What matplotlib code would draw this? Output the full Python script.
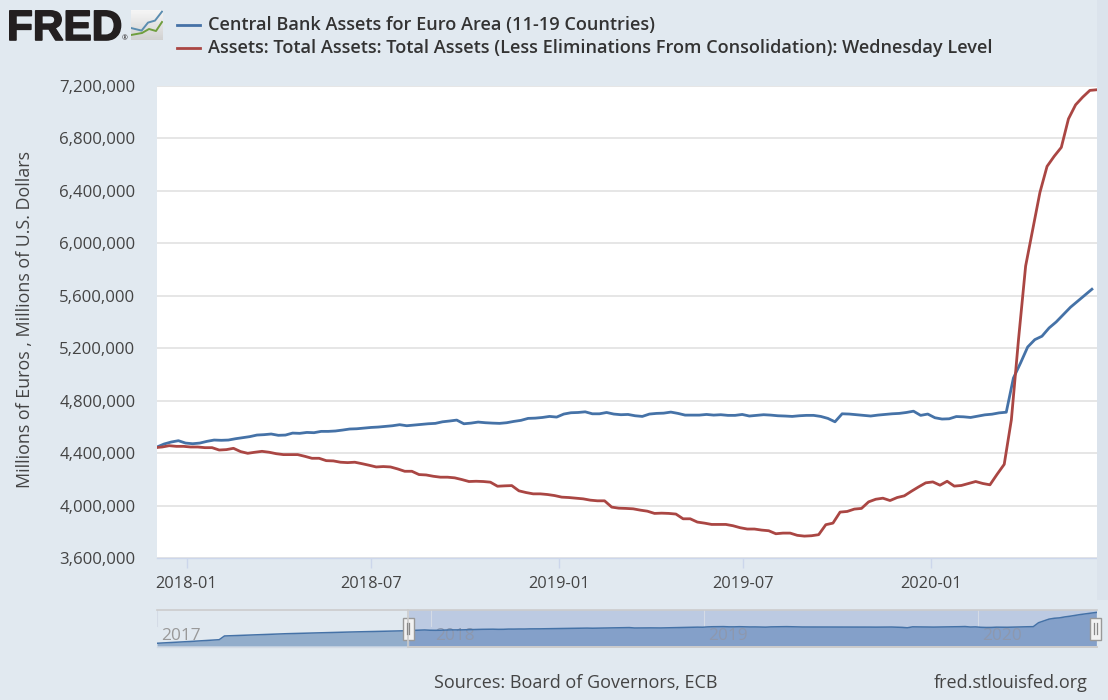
import numpy as np
import pandas as pd
import matplotlib
matplotlib.use('Agg')
import matplotlib.pyplot as plt
import matplotlib.dates as mdates
import matplotlib.patheffects as pe
from matplotlib.lines import Line2D
from matplotlib.patches import Rectangle
from matplotlib.ticker import FuncFormatter

# weekly values, millions
euro_assets = [
    4.448, 4.471, 4.486, 4.496, 4.478, 4.473, 4.478, 4.491, 4.501, 4.499, 4.501, 4.511, 4.519, 4.527,
    4.539, 4.542, 4.547, 4.537, 4.539, 4.554, 4.552, 4.559, 4.557, 4.567, 4.567, 4.570, 4.577, 4.585,
    4.587, 4.592, 4.597, 4.600, 4.605, 4.610, 4.618, 4.610, 4.615, 4.620, 4.625, 4.628, 4.640, 4.646,
    4.653, 4.625, 4.630, 4.638, 4.633, 4.630, 4.628, 4.633, 4.643, 4.651, 4.666, 4.668, 4.673, 4.681,
    4.676, 4.699, 4.709, 4.711, 4.716, 4.701, 4.701, 4.711, 4.699, 4.694, 4.696, 4.686, 4.681, 4.699,
    4.704, 4.706, 4.714, 4.704, 4.691, 4.691, 4.691, 4.696, 4.691, 4.694, 4.689, 4.689, 4.696, 4.684,
    4.689, 4.694, 4.691, 4.686, 4.684, 4.681, 4.686, 4.689, 4.689, 4.681, 4.666, 4.640, 4.701, 4.699,
    4.694, 4.689, 4.684, 4.691, 4.696, 4.701, 4.704, 4.711, 4.721, 4.689, 4.699, 4.671, 4.661, 4.663,
    4.680, 4.678, 4.673, 4.683, 4.693, 4.698, 4.708, 4.713, 4.973, 5.088, 5.210, 5.266, 5.292, 5.355,
    5.401, 5.457, 5.513, 5.559, 5.605, 5.650,
]
fed_assets = [
    4.443, 4.448, 4.458, 4.453, 4.453, 4.448, 4.448, 4.443, 4.443, 4.425, 4.428, 4.438, 4.413, 4.400,
    4.408, 4.415, 4.408, 4.397, 4.390, 4.390, 4.390, 4.377, 4.362, 4.362, 4.344, 4.342, 4.332, 4.329,
    4.332, 4.321, 4.309, 4.296, 4.299, 4.296, 4.281, 4.263, 4.263, 4.238, 4.235, 4.225, 4.218, 4.218,
    4.213, 4.200, 4.185, 4.187, 4.185, 4.180, 4.149, 4.152, 4.154, 4.114, 4.101, 4.091, 4.091, 4.086,
    4.078, 4.066, 4.063, 4.058, 4.053, 4.043, 4.038, 4.038, 3.990, 3.982, 3.980, 3.977, 3.967, 3.959,
    3.942, 3.944, 3.942, 3.937, 3.901, 3.901, 3.876, 3.868, 3.858, 3.858, 3.858, 3.848, 3.833, 3.823,
    3.823, 3.815, 3.810, 3.787, 3.792, 3.792, 3.775, 3.769, 3.772, 3.780, 3.856, 3.868, 3.952, 3.957,
    3.975, 3.980, 4.030, 4.050, 4.058, 4.040, 4.063, 4.076, 4.111, 4.144, 4.175, 4.182, 4.157, 4.187,
    4.150, 4.155, 4.170, 4.185, 4.170, 4.160, 4.240, 4.316, 4.655, 5.266, 5.827, 6.107, 6.387, 6.586,
    6.663, 6.731, 6.948, 7.055, 7.114, 7.165, 7.170,
]
euro_dates = pd.date_range("2017-12-03", periods=len(euro_assets), freq="7D")
fed_dates = pd.date_range("2017-12-01", periods=len(fed_assets), freq="7D")

# navigator only shows the euro series, with 2017 in front
early_dates = pd.to_datetime(["2017-01-01", "2017-02-15", "2017-03-25", "2017-04-01", "2017-06-23", "2017-09-15"])
early_assets = [3.62, 3.74, 3.855, 4.10, 4.25, 4.36]

y_ticks = [3.6, 4.0, 4.4, 4.8, 5.2, 5.6, 6.0, 6.4, 6.8, 7.2]
x_ticks = ["2018-01-01", "2018-07-01", "2019-01-01", "2019-07-01", "2020-01-01"]
nav_years = ["2017", "2018", "2019", "2020"]

BG = "#e1e9f0"
BLUE = "#4572a7"
RED = "#aa4643"
TEXT = "#444444"
W, H = 1108, 700

plt.rcParams['font.family'] = ['Open Sans', 'DejaVu Sans']


def box(x0, y0, x1, y1):
    # pixel box (y from the top) to figure fractions
    return [x0 / W, 1 - y1 / H, (x1 - x0) / W, (y1 - y0) / H]


fig = plt.figure(figsize=(W / 100, H / 100), dpi=100, facecolor=BG)

# slightly darker strip right of the plot
fig.add_artist(Rectangle((1097 / W, 1 - 600 / H), 11 / W, 600 / H, transform=fig.transFigure,
                         facecolor="#dbe3ec", edgecolor="none"))

# main chart
ax = fig.add_axes(box(157, 85.8, 1097, 558.3))
ax.plot(euro_dates, euro_assets, color=BLUE, lw=2.0, solid_joinstyle='round')
ax.plot(fed_dates, fed_assets, color=RED, lw=2.0, solid_joinstyle='round')
ax.set_xlim(pd.Timestamp("2017-12-03"), pd.Timestamp("2020-06-12"))
ax.set_ylim(3.6, 7.2)
ax.set_yticks(y_ticks)
ax.yaxis.set_major_formatter(FuncFormatter(lambda v, p: f"{v * 1e6:,.0f}"))
ax.set_xticks(pd.to_datetime(x_ticks))
ax.xaxis.set_major_formatter(mdates.DateFormatter("%Y-%m"))
ax.grid(axis='y', color="#e6e6e6", lw=1.4)
ax.set_axisbelow(True)
for s in ['top', 'right', 'left']:
    ax.spines[s].set_visible(False)
ax.spines['bottom'].set_color("#ccd6eb")
ax.spines['bottom'].set_linewidth(1.0)
ax.tick_params(axis='y', length=0, labelsize=12.1, labelcolor=TEXT, pad=15.5)
ax.tick_params(axis='x', length=7.5, width=1.0, color="#ccd6eb", labelsize=11.8, labelcolor=TEXT, pad=5)

fig.text(25 / W, 1 - 320 / H, "Millions of Euros , Millions of U.S. Dollars", rotation=90,
         ha='center', va='center', fontsize=12.9, color=TEXT)

# legend
legend_rows = [
    (25, BLUE, "Central Bank Assets for Euro Area (11-19 Countries)"),
    (48, RED, "Assets: Total Assets: Total Assets (Less Eliminations From Consolidation): Wednesday Level"),
]
for ly, col, label in legend_rows:
    fig.add_artist(Line2D([177 / W, 200 / W], [1 - ly / H, 1 - ly / H], color=col, lw=2.0))
    fig.text(208 / W, 1 - ly / H, label, ha='left', va='center', fontsize=13.05, color="#333333", fontweight=600)

# logo
fig.text(7 / W, 1 - 40 / H, "FRED", ha='left', va='baseline', fontsize=30.5, fontweight='bold',
         color="#231f20", family='Liberation Sans',
         path_effects=[pe.withStroke(linewidth=1.2, foreground="#231f20")])
fig.text(122 / W, 1 - 40.5 / H, "®", ha='left', va='baseline', fontsize=5, color="#231f20")
icon = fig.add_axes(box(131, 10, 163, 40))
icon.imshow(np.linspace(0.96, 0.82, 30).reshape(-1, 1), cmap='gray', vmin=0, vmax=1, aspect='auto',
            extent=[0, 32, 30, 0])
icon.plot([0, 10.6, 17, 24, 31], [18, 20.6, 12.6, 10.6, 1.6], color="#5b8db0", lw=1.4)
icon.plot([0, 11, 18, 25, 31], [25, 23, 19, 21, 12], color="#6f9e3e", lw=1.4)
icon.set_xlim(0, 32)
icon.set_ylim(30, 0)
icon.axis('off')

# navigator
nav = fig.add_axes(box(157, 610, 1097, 646))
nav.set_facecolor("none")
nav_dates = early_dates.append(euro_dates)
nav_values = np.array(early_assets + euro_assets)
nav_start = pd.Timestamp("2017-01-01")
nav_end = pd.Timestamp("2020-06-08")
sel_start = pd.Timestamp("2017-12-03")
nav.axvspan(sel_start, nav_end, color="#bccae2", lw=0, zorder=0)
left = nav_dates <= sel_start
right = nav_dates >= sel_start
nav.fill_between(nav_dates[left], nav_values[left], 3.44, color="#92adcb", lw=0, zorder=1)
nav.fill_between(nav_dates[right], nav_values[right], 3.44, color="#84a0c9", lw=0, zorder=1)
nav.plot(nav_dates, nav_values, color=BLUE, lw=1.1, zorder=3)
nav.set_xlim(nav_start, nav_end)
nav.set_ylim(3.44, 5.81)
nav.set_xticks([])
nav.set_yticks([])
for s in nav.spines.values():
    s.set_visible(False)
for yr in nav_years:
    d = pd.Timestamp(yr + "-01-01")
    nav.axvline(d, ymin=0.55, color="#d4dbe6", lw=0.8, zorder=2)
    nav.annotate(yr, (d, 3.44), xytext=(3, 1.5), textcoords='offset points', fontsize=12.4,
                 color="#999999" if yr == "2017" else "#8d98ae", ha='left', va='bottom', zorder=2)
fig.add_artist(Line2D([157 / W, 1097 / W], [1 - 609.5 / H] * 2, color="#cccccc", lw=1.2))
fig.add_artist(Line2D([157 / W, 408 / W], [1 - 646.5 / H] * 2, color="#d3dae4", lw=1.0))
fig.add_artist(Line2D([408 / W, 1097 / W], [1 - 647 / H] * 2, color="#cccccc", lw=1.4))
fig.add_artist(Line2D([408 / W, 408 / W], [1 - 646.5 / H, 1 - 610 / H], color="#cccccc", lw=1.2))
for hx in [408, 1095.5]:
    fig.add_artist(Rectangle(((hx - 5.5) / W, 1 - 639.5 / H), 11 / W, 22 / H, transform=fig.transFigure,
                             facecolor="#f2f2f2", edgecolor="#999999", lw=1.0))
    for dx in [-1.3, 1.3]:
        fig.add_artist(Line2D([(hx + dx) / W] * 2, [1 - 634 / H, 1 - 623 / H], color="#888888", lw=0.9))

# footer
fig.text(717 / W, 1 - 683 / H, "Sources: Board of Governors, ECB", ha='right', va='center', fontsize=13, color=TEXT)
fig.text(1088 / W, 1 - 683 / H, "fred.stlouisfed.org", ha='right', va='center', fontsize=13, color=TEXT)

fig.savefig("out.png", dpi=100, facecolor=BG)
